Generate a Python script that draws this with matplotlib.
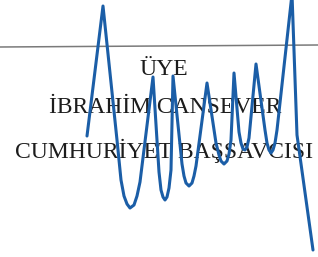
import matplotlib
matplotlib.use("Agg")
import matplotlib.pyplot as plt

# Signature stroke points (pixel coordinates)
stroke_x = [87, 103, 117, 121, 124, 127, 130, 134, 137, 140, 153,
            159, 161, 163, 165, 167, 169, 171, 173,
            182, 184, 186, 189, 192, 194, 196, 207,
            216, 219, 221, 224, 227, 229, 231, 234,
            239, 241, 243, 245, 247, 249, 256,
            265, 267, 269, 271, 273, 275, 277, 292, 297, 313]
stroke_y = [136, 6, 140, 180, 196, 204, 208, 205, 196, 182, 77,
            172, 190, 197, 200, 197, 188, 170, 76,
            164, 176, 183, 186, 183, 176, 166, 83,
            143, 155, 161, 164, 161, 154, 140, 73,
            132, 143, 149, 150, 147, 138, 64,
            130, 143, 150, 153, 150, 143, 130, -6, 135, 250]

# Printed text lines
text_lines = ["ÜYE", "İBRAHİM CANSEVER", "CUMHURİYET BAŞSAVCISI"]
text_x = [164, 165, 164]
text_y = [75, 113, 158]

# Rule line endpoints
rule_x = [0, 318]
rule_y = [47, 45]

W, H = 318, 257
fig = plt.figure(figsize=(W / 100, H / 100), dpi=100)
ax = fig.add_axes([0, 0, 1, 1])
ax.set_xlim(0, W)
ax.set_ylim(H, 0)
ax.axis("off")

ax.plot(rule_x, rule_y, color="#7a7a7a", lw=1.1, zorder=1)

for s, x, y in zip(text_lines, text_x, text_y):
    ax.text(x, y, s, ha="center", va="baseline", fontsize=17,
            family=["Liberation Serif", "DejaVu Serif"], color="#1c1c1c", zorder=2)

ax.plot(stroke_x, stroke_y, color="#1b5ea7", lw=2.2, solid_joinstyle="round",
        solid_capstyle="round", zorder=3)

fig.savefig("out.png", dpi=100)
